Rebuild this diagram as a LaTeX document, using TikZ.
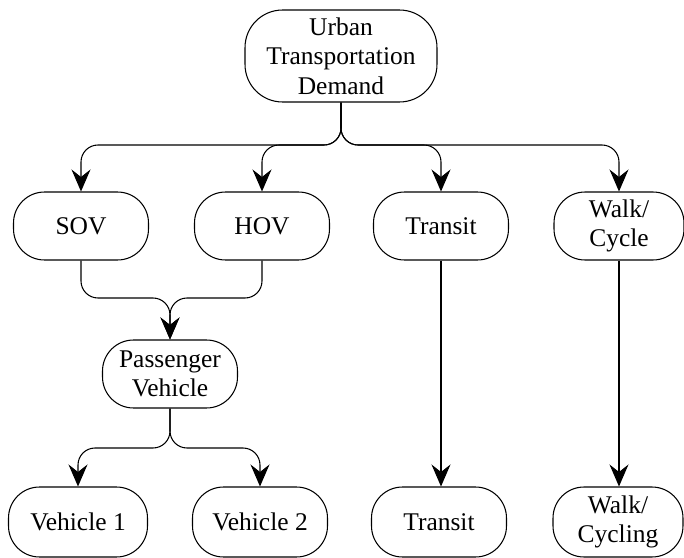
\documentclass[tikz,border=0pt]{standalone}
\usepackage{fontspec}
\setmainfont{Liberation Serif}
\usetikzlibrary{arrows.meta,positioning}

\tikzset{
  mode/.style={draw, line width=0.6pt, rounded corners=0.62cm, align=center,
    inner sep=0pt, minimum width=2.7cm, minimum height=1.36cm,
    font=\rmfamily\fontsize{14.5}{16.8}\selectfont},
  flow/.style={line width=0.6pt, rounded corners=0.34cm,
    -{Stealth[length=0.44cm,width=0.38cm,inset=0.15cm]}},
}

\begin{document}
\begin{tikzpicture}[x=0.02cm,y=-0.02cm]
    \useasboundingbox (0,0) rectangle (684,558);
    % Top level
    \node[mode, minimum width=3.84cm, minimum height=1.84cm, rounded corners=0.75cm] (demand) at (341,56) {Urban\\Transportation\\Demand};
    % Modes
    \node[mode] (sov) at (81,226) {SOV};
    \node[mode] (hov) at (262,226) {HOV};
    \node[mode] (transit) at (441,226) {Transit};
    \node[mode, minimum width=2.6cm] (walk) at (619,226) {Walk/\\Cycle};
    \node[mode] (passenger) at (170,374) {Passenger\\Vehicle};
    % Lower level
    \node[mode, minimum width=2.78cm, minimum height=1.4cm] (veh1) at (78,522) {Vehicle 1};
    \node[mode, minimum height=1.4cm] (veh2) at (260,522) {Vehicle 2};
    \node[mode, minimum height=1.4cm] (transit2) at (439,522) {Transit};
    \node[mode, minimum width=2.6cm, minimum height=1.4cm] (cycling) at (618,522) {Walk/\\Cycling};
    % Branch points
    \coordinate (split) at (341,145);
    \coordinate (merge) at (170,298);
    \coordinate (fork) at (170,448);
    % Draw connectors
    \draw[flow] (demand.south) |- (sov.north |- split) -- (sov.north);
    \draw[flow] (demand.south) |- (hov.north |- split) -- (hov.north);
    \draw[flow] (demand.south) |- (transit.north |- split) -- (transit.north);
    \draw[flow] (demand.south) |- (walk.north |- split) -- (walk.north);
    \draw[flow] (sov.south) |- (merge) -- (passenger.north);
    \draw[flow] (hov.south) |- (merge) -- (passenger.north);
    \draw[flow] (passenger.south) |- (veh1.north |- fork) -- (veh1.north);
    \draw[flow] (passenger.south) |- (veh2.north |- fork) -- (veh2.north);
    \draw[flow] (transit.south) -- (transit.south |- transit2.north);
    \draw[flow] (walk.south) -- (walk.south |- cycling.north);
\end{tikzpicture}
\end{document}
